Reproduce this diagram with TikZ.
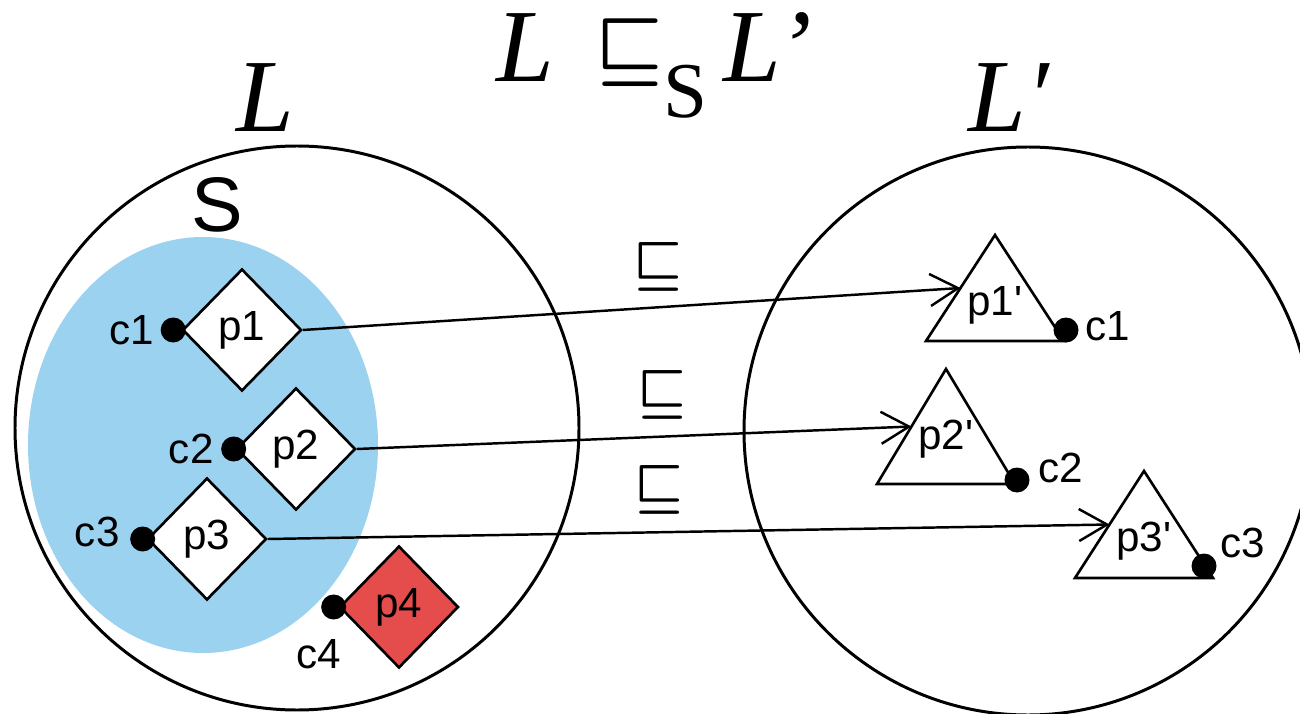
\documentclass[tikz,border=0pt]{standalone}
\usepackage{fontspec}
\setmainfont{Liberation Serif}
\setsansfont{Liberation Sans}
\usepackage{graphicx}
\usepackage{tikz}
\usetikzlibrary{arrows.meta,shapes.geometric,positioning,calc}
\definecolor{scopecolor}{HTML}{9BD2F0}
\definecolor{dropcolor}{HTML}{E54D4D}
\newcommand{\refsym}[1]{\scalebox{#1}{\fontsize{10}{10}\selectfont\boldmath$\sqsubseteq$}}
\tikzset{library/.style={draw,line width=1.7pt},scope region/.style={fill=scopecolor},prog/.style={diamond,draw,line width=1.5pt,fill=white,minimum width=23.8mm,minimum height=24.4mm,inner sep=0pt,font=\fontsize{24}{24}\sffamily},port/.style={circle,fill=black,minimum size=5mm,inner sep=0pt},port label/.style={inner sep=0pt,font=\fontsize{24}{24}\sffamily},tri/.style={draw,line width=1.5pt},refine edge/.style={-{Straight Barb[length=5.6mm,width=6.4mm]},line width=1.4pt},rel label/.style={inner sep=0pt},big label/.style={inner sep=0pt,font=\fontsize{59}{59}\selectfont\itshape}}

\begin{document}
\begin{tikzpicture}[x=0.2mm,y=-0.2mm]
 \useasboundingbox (0,0) rectangle (1300,714);
 \node[big label,anchor=base west] (rel) at (496,82) {L\hspace{8.2mm}\raisebox{2.1mm}{\refsym{4.3}}\hspace{0.2mm}\raisebox{-7.2mm}{\upshape\fontsize{45}{45}\selectfont S}\hspace{3.2mm}L’};
 % left library with the subset S
 \fill[scope region] (203,445) ellipse[x radius=175,y radius=208];
 \draw[library] (297,428) circle[radius=282];
 \node[big label,anchor=base west] (lname) at (236,132) {L};
 \node[inner sep=0pt,font=\fontsize{44}{44}\sffamily] (sname) at (217,205) {S};
 \foreach \i/\xx/\yy/\sh in {1/242/330/-1.6,2/296/449/-0.3,3/207/539/-0.7} {
   \node[prog] (p\i) at (\xx,\yy) {p\i};
   \node[port] (c\i) at ([xshift=\sh mm]p\i.west) {};
 }
 \node[prog,fill=dropcolor] (p4) at (399,607) {p4};
 \node[port] (c4) at ([xshift=-0.9mm]p4.west) {};
 \node[port label,left=1.2mm of c1] (c1l) {c1};
 \node[port label,left=1.4mm of c2] (c2l) {c2};
 \node[port label,left=2mm of c3,yshift=1.4mm] (c3l) {c3};
 \node[port label,below=3.8mm of c4,xshift=-3mm] (c4l) {c4};
 % right library
 \draw[library] (1028,431) circle[radius=284];
 \node[big label,anchor=base west] (rname) at (968,132) {L′};
 \foreach \i/\ax/\ay/\h in {1/995/235/106,2/946/369/115,3/1144/471/107} {
   \draw[tri] (\ax,\ay) coordinate (t\i a) -- ++(-69,\h) coordinate (t\i l) -- ++(138,0) coordinate (t\i r) -- cycle;
   \coordinate (t\i w) at ($(t\i a)!.5!(t\i l)$);
   \node[port label] (q\i) at (\ax,\ay+70) {p\i\textquotesingle};
 }
 \node[port] (d1) at (1066,330) {};
 \node[port] (d2) at (1017,480) {};
 \node[port] (d3) at (1204,566) {};
 \node[port label,right=1.2mm of d1,yshift=0.8mm] (d1l) {c1};
 \node[port label,right=1.6mm of d2,yshift=2.4mm] (d2l) {c2};
 \node[port label,right=0.7mm of d3,yshift=4.6mm] (d3l) {c3};
 % refinement arrows
 \foreach \i/\ps/\up in {1/.54/3,2/.55/3.2,3/.465/3.4}
   \draw[refine edge] (p\i.east) -- node[rel label,pos=\ps,above=\up mm] (r\i) {\refsym{3.1}} (t\i w);
\end{tikzpicture}
\end{document}
